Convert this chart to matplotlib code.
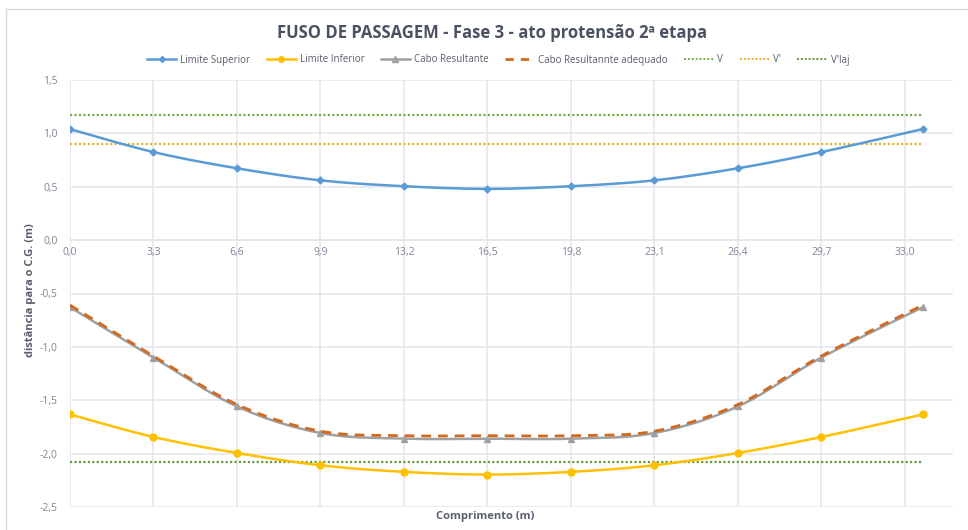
import numpy as np
import matplotlib
matplotlib.use("Agg")
import matplotlib.pyplot as plt
from matplotlib.lines import Line2D

plt.rcParams['font.family'] = ['Open Sans', 'DejaVu Sans']

# Section positions along the beam (m)
comprimento = [0.0, 3.3, 6.6, 9.9, 13.2, 16.5, 19.8, 23.1, 26.4, 29.7, 33.7]
x_ticks = [0.0, 3.3, 6.6, 9.9, 13.2, 16.5, 19.8, 23.1, 26.4, 29.7, 33.0]

limite_superior = [1.04, 0.825, 0.673, 0.56, 0.505, 0.48, 0.505, 0.56, 0.673, 0.825, 1.04]
limite_inferior = [-1.633, -1.844, -1.994, -2.109, -2.171, -2.196, -2.171, -2.109, -1.994, -1.844, -1.633]
cabo_resultante = [-0.629, -1.10, -1.558, -1.807, -1.86, -1.86, -1.86, -1.807, -1.558, -1.10, -0.629]
cabo_adequado = [-0.61, -1.085, -1.54, -1.79, -1.832, -1.832, -1.832, -1.79, -1.54, -1.085, -0.61]

v_sup = 1.171      # V
v_linha = 0.904    # V'
v_laj = -2.081     # V'laj


def smooth(x, y, n=24):
    """Bezier smoothing through every point (spreadsheet-style smoothed line)."""
    x = np.asarray(x, float)
    y = np.asarray(y, float)
    pts = np.column_stack([x, y])
    out = [pts[0]]
    m = len(pts)
    t = np.linspace(0, 1, n)[1:, None]
    for i in range(m - 1):
        p0 = pts[i - 1] if i > 0 else pts[i]
        p1 = pts[i]
        p2 = pts[i + 1]
        p3 = pts[i + 2] if i + 2 < m else pts[i + 1]
        c1 = p1 + (p2 - p0) / 6.0
        c2 = p2 - (p3 - p1) / 6.0
        seg = ((1 - t) ** 3) * p1 + 3 * ((1 - t) ** 2) * t * c1 + 3 * (1 - t) * t ** 2 * c2 + t ** 3 * p2
        out.extend(seg)
    out = np.array(out)
    return out[:, 0], out[:, 1]


W, H = 968, 530
fig = plt.figure(figsize=(W / 100, H / 100), dpi=100)
ax = fig.add_axes([70 / W, 1 - 507 / H, 883 / W, 427 / H])

c_sup = '#5B9BD5'
c_inf = '#FFC000'
c_cabo = '#A0A0A0'
c_adeq = '#D2691E'
c_v = '#70AD47'
c_vl = '#E6B030'
c_vlaj = '#6A9A3A'

# reference levels
xr = [comprimento[0], comprimento[-1]]
ax.plot(xr, [v_sup, v_sup], color=c_v, lw=1.6, ls=(0, (1, 1)), zorder=2)
ax.plot(xr, [v_linha, v_linha], color=c_vl, lw=1.6, ls=(0, (1, 1)), zorder=2)
ax.plot(xr, [v_laj, v_laj], color=c_vlaj, lw=1.6, ls=(0, (1, 1)), zorder=2)

sx, sy = smooth(comprimento, limite_superior)
ax.plot(sx, sy, color=c_sup, lw=1.8, zorder=3)
ax.plot(comprimento, limite_superior, ls='none', marker='D', ms=3.5, color=c_sup, zorder=4)

sx, sy = smooth(comprimento, limite_inferior)
ax.plot(sx, sy, color=c_inf, lw=1.8, zorder=3)
ax.plot(comprimento, limite_inferior, ls='none', marker='o', ms=5, color=c_inf, zorder=4)

sx, sy = smooth(comprimento, cabo_resultante)
ax.plot(sx, sy, color=c_cabo, lw=1.8, zorder=3)
ax.plot(comprimento, cabo_resultante, ls='none', marker='^', ms=5, color=c_cabo, zorder=4)

sx, sy = smooth(comprimento, cabo_adequado)
ax.plot(sx, sy, color=c_adeq, lw=2.0, ls=(0, (3.5, 2.5)), zorder=5)

ax.set_xlim(0, 34.9)
ax.set_ylim(-2.5, 1.5)
ax.set_xticks(x_ticks)
ax.set_xticklabels([f"{v:.1f}".replace('.', ',') for v in x_ticks])
yt = np.arange(-2.5, 1.51, 0.5)
ax.set_yticks(yt)
ax.set_yticklabels([f"{v:.1f}".replace('.', ',').replace('-0,0', '0,0') for v in yt])

grid_c = '#E3E6EC'
ax.grid(True, color=grid_c, lw=1.1, zorder=0)
ax.set_axisbelow(True)
for s in ['top', 'right', 'left']:
    ax.spines[s].set_visible(False)
ax.spines['bottom'].set_position(('data', 0))
ax.spines['bottom'].set_color(grid_c)
ax.spines['bottom'].set_linewidth(1.1)
ax.tick_params(axis='both', length=0, labelsize=7.5, colors='#7F8794')
ax.tick_params(axis='x', pad=5)
ax.tick_params(axis='y', pad=9)

fig.text(31 / W, 1 - 290 / H, 'distância para o C.G. (m)', rotation=90, ha='center', va='center',
         fontsize=8, fontweight='bold', color='#595F6B')
fig.text(485 / W, 1 - 517 / H, 'Comprimento (m)', ha='center', va='center',
         fontsize=8, fontweight='bold', color='#595F6B')
fig.text(492 / W, 1 - 33 / H, 'FUSO DE PASSAGEM - Fase 3 - ato protensão 2ª etapa', ha='center', va='center',
         fontsize=12, fontweight='bold', color='#4A5261')

handles = [
    Line2D([], [], color=c_sup, lw=1.8, marker='D', ms=3),
    Line2D([], [], color=c_inf, lw=1.8, marker='o', ms=4),
    Line2D([], [], color=c_cabo, lw=1.8, marker='^', ms=4),
    Line2D([], [], color=c_adeq, lw=2.0, ls=(0, (3, 2.5))),
    Line2D([], [], color=c_v, lw=1.4, ls=(0, (1, 1))),
    Line2D([], [], color=c_vl, lw=1.4, ls=(0, (1, 1))),
    Line2D([], [], color=c_vlaj, lw=1.4, ls=(0, (1, 1))),
]
labels = ['Limite Superior', 'Limite Inferior', 'Cabo Resultante', 'Cabo Resultannte adequado', 'V', "V'", "V'laj"]
leg = fig.legend(handles, labels, loc='center', bbox_to_anchor=(498 / W, 1 - 60 / H), ncol=7, frameon=False,
                 fontsize=7, handlelength=3.0, handletextpad=0.4, columnspacing=1.7)
for t in leg.get_texts():
    t.set_color('#595F6B')

# chart frame
fig.add_artist(Line2D([6 / W, 6 / W], [0, 1 - 9 / H], color='#D9D9D9', lw=1, transform=fig.transFigure))
fig.add_artist(Line2D([6 / W, 1], [1 - 9 / H, 1 - 9 / H], color='#D9D9D9', lw=1, transform=fig.transFigure))

fig.savefig('out.png', dpi=100, facecolor='white')
